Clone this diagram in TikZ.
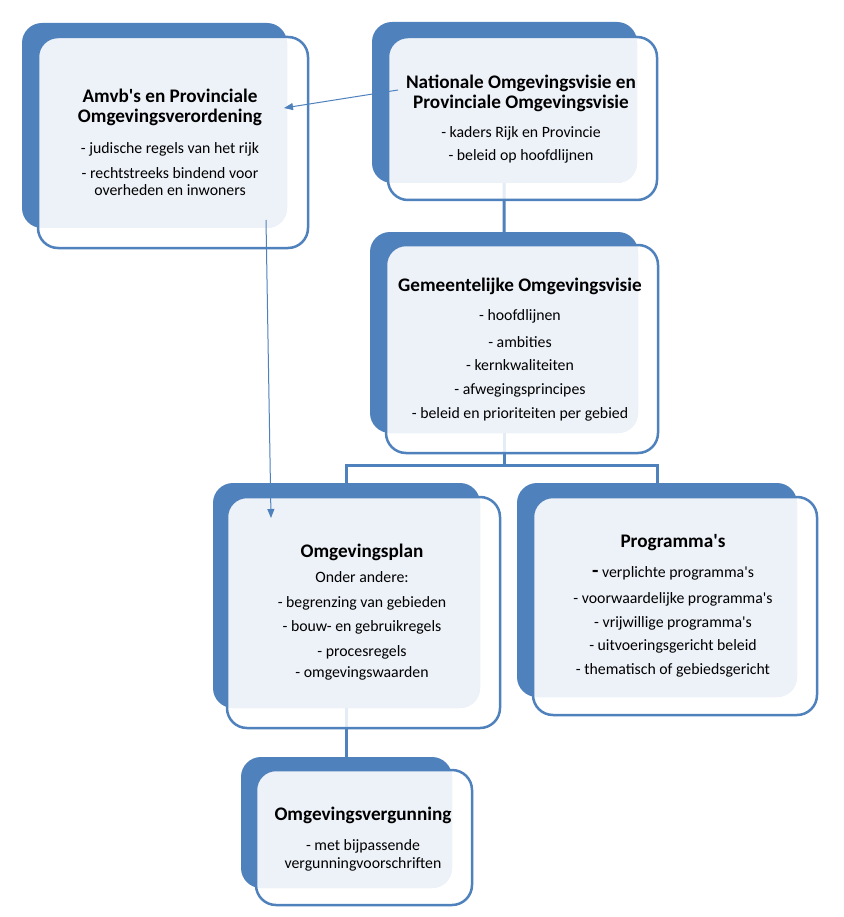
\documentclass[tikz,border=0pt]{standalone}
\usepackage{fontspec}
\setmainfont{Carlito}
\usetikzlibrary{arrows.meta,backgrounds}
\definecolor{obl}{HTML}{4F81BD}
\definecolor{olt}{HTML}{EDF1F8}
\newcommand\drawomg[9]{%
  \node[backbox,minimum width=#4pt,minimum height=#5pt] (#1back) at (#2,#3) {};
  \node[frontfill,minimum width=#8pt,minimum height=#9pt] (#1) at (#6,#7) {};
  \begin{scope}
    \clip[rounded corners=20pt] (#1back.north west) rectangle (#1back.south east);
    \fill[olt,rounded corners=20pt] (#1.north west) rectangle (#1.south east);
  \end{scope}
  \draw[frontline] (#1.north west) rectangle (#1.south east);
}
\newcommand\aq{\textquotesingle}
\begin{document}
\begin{tikzpicture}[x=1pt,y=-1pt,
  backbox/.style={rectangle,rounded corners=20pt,fill=obl,draw=none,inner sep=0pt,outer sep=0pt},
  frontfill/.style={rectangle,rounded corners=20pt,fill=white,fill opacity=0.85,draw=none,inner sep=0pt,outer sep=0pt},
  frontline/.style={draw=obl,line width=2.5pt,rounded corners=20pt},
  conn/.style={draw=obl,line width=3pt},
  thinarrow/.style={draw=obl,line width=1pt,-{Triangle[length=9pt,width=7pt]}},
  ttl/.style={font=\bfseries\fontsize{19.2}{22}\selectfont,anchor=mid,inner sep=0pt,yshift=-3pt},
  itm/.style={font=\fontsize{15.8}{18}\selectfont,anchor=mid,inner sep=0pt,yshift=-3pt}]
\useasboundingbox (0,0) rectangle (843,917);

\drawomg{b1}{154.5}{125.5}{265}{205}{173}{142.5}{270}{211}
\drawomg{b2}{504.5}{102.5}{265}{161}{522.5}{118.5}{269}{163}
\drawomg{b3}{504}{332.5}{268}{201}{522}{349}{272}{208}
\drawomg{b4}{346.5}{595.5}{267}{225}{363.5}{612.5}{273}{231}
\drawomg{b5}{657}{590}{280}{214}{675}{606}{284}{218}
\drawomg{b6}{346.5}{822.5}{211}{131}{364}{837.5}{216}{135}

\coordinate (j) at (505,465);
\begin{pgfonlayer}{background}
  \fill[white] (0,0) rectangle (843,917);
  \draw[conn] (b2back.center) -- (b3back.north);
  \draw[conn] (b3back.center) -- (b3back |- j);
  \draw[conn] ([xshift=-1.5pt]b4back |- j) -- ([xshift=1.5pt]b5back |- j);
  \draw[conn] (b4back |- j) -- (b4back.north);
  \draw[conn] (b5back |- j) -- (b5back.north);
  \draw[conn] (b4back.center) -- (b6back.north);
\end{pgfonlayer}

% box 1
\node[ttl] (t1a) at (170,97) {Amvb\aq s en Provinciale};
\node[ttl] (t1b) at (170,117) {Omgevingsverordening};
\node[itm] (t1c) at (170,148) {- judische regels van het rijk};
\node[itm] (t1d) at (170,173) {- rechtstreeks bindend voor};
\node[itm] (t1e) at (170,190) {overheden en inwoners};
% box 2
\node[ttl] (t2a) at (521,83) {Nationale Omgevingsvisie en};
\node[ttl] (t2b) at (521,103) {Provinciale Omgevingsvisie};
\node[itm] (t2c) at (521,132) {- kaders Rijk en Provincie};
\node[itm] (t2d) at (521,155) {- beleid op hoofdlijnen};
% box 3
\node[ttl] (t3a) at (520,286) {Gemeentelijke Omgevingsvisie};
\node[itm] (t3b) at (520,315) {- hoofdlijnen};
\node[itm] (t3c) at (520,342) {- ambities};
\node[itm] (t3d) at (520,365) {- kernkwaliteiten};
\node[itm] (t3e) at (520,389) {- afwegingsprincipes};
\node[itm] (t3f) at (520,413) {- beleid en prioriteiten per gebied};
% box 4
\node[ttl] (t4a) at (362,552) {Omgevingsplan};
\node[itm] (t4b) at (362,577) {Onder andere:};
\node[itm] (t4c) at (362,602) {- begrenzing van gebieden};
\node[itm] (t4d) at (362,626) {- bouw- en gebruikregels};
\node[itm] (t4e) at (362,651) {- procesregels};
\node[itm] (t4f) at (362,672) {- omgevingswaarden};
% box 5
\node[ttl] (t5a) at (673,542) {Programma\aq s};
\node[itm] (t5b) at (673,572) {{\bfseries\fontsize{21}{22}\selectfont -} verplichte programma\aq s};
\node[itm] (t5c) at (673,598) {- voorwaardelijke programma\aq s};
\node[itm] (t5d) at (673,622) {- vrijwillige programma\aq s};
\node[itm] (t5e) at (673,645) {- uitvoeringsgericht beleid};
\node[itm] (t5f) at (673,669) {- thematisch of gebiedsgericht};
% box 6
\node[ttl] (t6a) at (363,815) {Omgevingsvergunning};
\node[itm] (t6b) at (363,845) {- met bijpassende};
\node[itm] (t6c) at (363,863) {vergunningvoorschriften};

% arrows
\coordinate (a1s) at (398,90);
\coordinate (a1e) at (284,108);
\coordinate (a2s) at (266,220);
\coordinate (a2e) at (271,518);
\draw[thinarrow] (a1s) -- (a1e);
\draw[thinarrow] (a2s) -- (a2e);
\end{tikzpicture}
\end{document}
